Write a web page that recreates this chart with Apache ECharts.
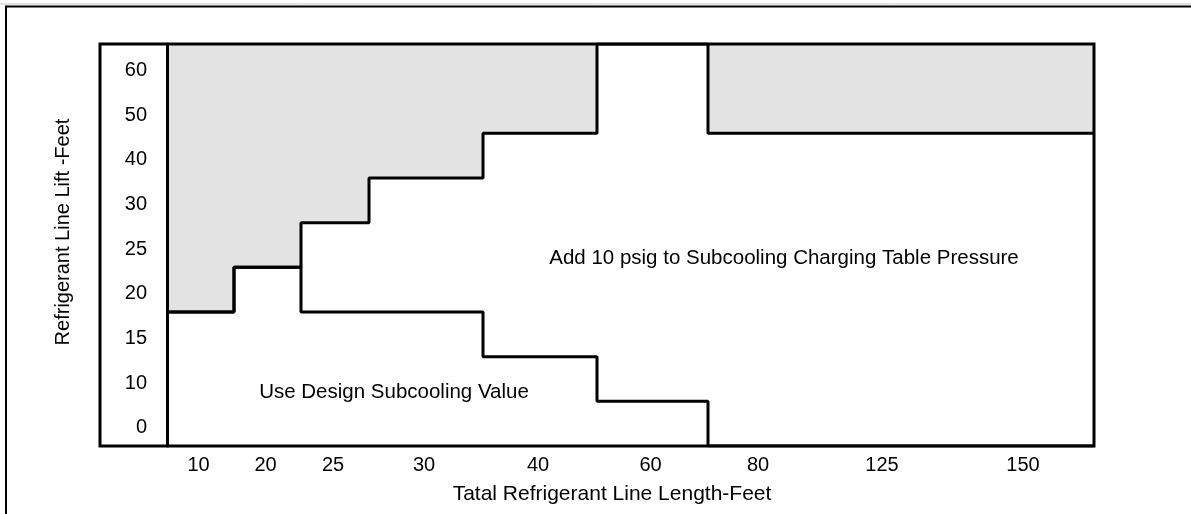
<!DOCTYPE html>
<html>
<head>
<meta charset="utf-8">
<script src="https://cdn.jsdelivr.net/npm/echarts@6/dist/echarts.min.js"></script>
<style>
  html, body { margin: 0; padding: 0; background: #fff; }
  #chart { width: 1191px; height: 514px; }
</style>
</head>
<body>
<div id="chart"></div>
<script>
// lift rows, bottom to top
var lifts = ['0', '10', '15', '20', '25', '30', '40', '50', '60']
// line length columns, left to right
var lengths = ['10', '20', '25', '30', '40', '60', '80', '125', '150']
// column borders on the length axis (axis units)
var colEdges = [0, 67, 134, 202, 316, 430, 541, 645, 789, 927]
// row index where the "add 10 psig" shading starts, per column (9 = none)
var shadeLevel = [3, 4, 5, 6, 7, 9, 7, 7, 7]
// row index of the "use design subcooling" upper limit, per column
var designLevel = [3, 4, 3, 3, 2, 1, 0, 0, 0]

var font = 'Liberation Sans, Arial, sans-serif'

function stepPoints(levels) {
  var pts = []
  for (var i = 0; i < levels.length; i++) {
    pts.push([colEdges[i], levels[i]])
    pts.push([colEdges[i + 1], levels[i]])
  }
  return pts
}

var colCenters = lengths.map(function(l, i) {
  return (colEdges[i] + colEdges[i + 1]) / 2 - 2
})
var rowCenters = lifts.map(function(l, i) {
  return i + 0.5
})

function nearest(arr, v) {
  var best = 0
  for (var i = 1; i < arr.length; i++) {
    if (Math.abs(arr[i] - v) < Math.abs(arr[best] - v)) best = i
  }
  return best
}

var chart = echarts.init(document.getElementById('chart'), null, { renderer: 'canvas' })
chart.setOption({
  animation: false,
  backgroundColor: '#fff',
  textStyle: { fontFamily: font },
  graphic: [
    {
      type: 'line',
      shape: { x1: 0, y1: 4, x2: 1191, y2: 4 },
      style: { stroke: '#c8c8c8', lineWidth: 1 }
    },
    {
      type: 'rect',
      shape: { x: 6, y: 6.5, width: 1300, height: 600 },
      style: { stroke: '#000', lineWidth: 2, fill: null }
    }
  ],
  grid: {
    left: 100,
    top: 44,
    right: 97,
    bottom: 68,
    outerBoundsMode: 'none',
    containLabel: false,
    show: true,
    borderColor: '#000',
    borderWidth: 3,
    backgroundColor: 'transparent'
  },
  xAxis: {
    type: 'value',
    min: -67,
    max: 927,
    name: 'Tatal Refrigerant Line Length-Feet',
    nameLocation: 'middle',
    nameGap: 38,
    nameTextStyle: { fontSize: 21, color: '#000', fontFamily: font, padding: [0, 0, 0, 30] },
    axisLine: { show: false },
    axisTick: { show: false },
    splitLine: { show: false },
    axisLabel: {
      customValues: colCenters,
      margin: 9,
      fontSize: 20,
      color: '#000',
      fontFamily: font,
      formatter: function(v) {
        return lengths[nearest(colCenters, v)]
      }
    }
  },
  yAxis: {
    type: 'value',
    min: 0,
    max: 9,
    name: 'Refrigerant Line Lift -Feet',
    nameLocation: 'middle',
    nameGap: 27,
    nameTextStyle: { fontSize: 20, color: '#000', fontFamily: font, padding: [0, 0, 0, 26] },
    axisLine: { show: true, onZero: true, lineStyle: { color: '#000', width: 3 } },
    axisTick: { show: false },
    splitLine: { show: false },
    axisLabel: {
      customValues: rowCenters,
      margin: -47,
      fontSize: 20,
      color: '#000',
      fontFamily: font,
      verticalAlign: 'top',
      lineHeight: 8,
      formatter: function(v) {
        return lifts[nearest(rowCenters, v)]
      }
    }
  },
  series: [
    {
      type: 'line',
      z: -1,
      data: stepPoints(shadeLevel),
      symbol: 'none',
      lineStyle: { color: '#000', width: 3 },
      areaStyle: { color: '#e3e3e3', opacity: 1, origin: 'end' }
    },
    {
      type: 'line',
      data: stepPoints(designLevel),
      symbol: 'none',
      lineStyle: { color: '#000', width: 3 }
    },
    {
      type: 'scatter',
      symbolSize: 0,
      itemStyle: { opacity: 1 },
      data: [
        { value: [617, 4.2], name: 'Add 10 psig to Subcooling Charging Table Pressure' },
        { value: [227, 1.2], name: 'Use Design Subcooling Value' }
      ],
      label: {
        show: true,
        position: 'inside',
        formatter: '{b}',
        fontSize: 20.5,
        color: '#000',
        fontFamily: font
      }
    }
  ]
})
</script>
</body>
</html>
